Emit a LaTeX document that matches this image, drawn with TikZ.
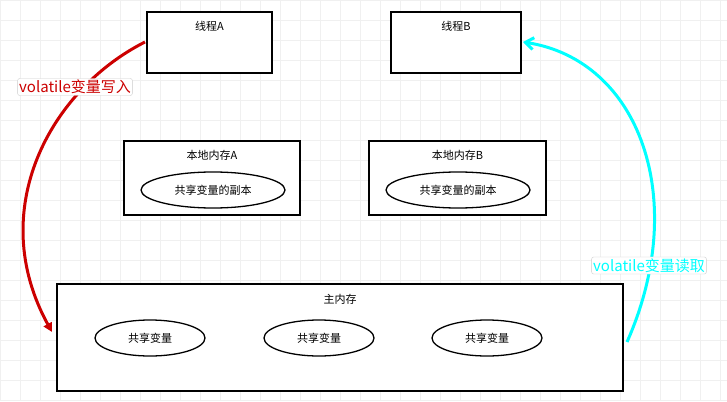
\documentclass[tikz,border=0pt]{standalone}
\usepackage{fontspec}
\setmainfont{Noto Sans CJK SC}
\usetikzlibrary{arrows.meta}
\definecolor{cy}{RGB}{0,255,255}
\begin{document}
\begin{tikzpicture}[x=1pt,y=-1pt,
  box/.style={draw=black,line width=2pt,fill=white,inner sep=0},
  ttl/.style={font=\fontsize{11}{12}\selectfont},
  lab/.style={draw=black!20,rounded corners=2pt,fill=white,inner sep=1.5pt,font=\fontsize{15}{16}\selectfont}]
\useasboundingbox (0,0) rectangle (727,401);
\fill[white] (0,0) rectangle (727,401);
\foreach \x in {0,20,...,720} \draw[black!6,line width=0.8pt] (\x,0) -- (\x,401);
\foreach \y in {0,20,...,400} \draw[black!6,line width=0.8pt] (0,\y) -- (727,\y);
\node[box,minimum width=125,minimum height=61] (ta) at (209.5,42.5) {};
\node[ttl] (tal) at (209.5,26) {线程A};
\node[box,minimum width=130,minimum height=61] (tb) at (456,42.5) {};
\node[ttl] (tbl) at (456,26) {线程B};
\node[box,minimum width=176,minimum height=74] (la) at (212,178) {};
\node[ttl] (lal) at (212,155) {本地内存A};
\draw[line width=1.3pt] (213,190) ellipse (72 and 18);
\node[ttl] (lae) at (213,190) {共享变量的副本};
\node[box,minimum width=177,minimum height=74] (lb) at (457.5,178) {};
\node[ttl] (lbl) at (457.5,155) {本地内存B};
\draw[line width=1.3pt] (458,190) ellipse (72 and 18);
\node[ttl] (lbe) at (458,190) {共享变量的副本};
\node[box,minimum width=566,minimum height=107] (mm) at (340,337.5) {};
\node[ttl] (mml) at (340,299) {主内存};
\foreach \x/\n in {150/a,319/b,487/c}{
  \draw[line width=1.3pt] (\x,338) ellipse (55 and 18);
  \node[ttl] (s\n) at (\x,338) {共享变量};
}
\coordinate (r1) at (145,42);
\coordinate (r2) at (52,332);
\draw[red!80!black,line width=3pt,-{Triangle[length=9pt,width=9pt]}] (r1) .. controls (50,90) and (-15,210) .. (r2);
\coordinate (c1) at (627,342);
\coordinate (c2) at (523,42);
\draw[cy,line width=3pt,-{Straight Barb[length=8pt,width=12pt]}] (c1) .. controls (690,200) and (640,60) .. (c2);
\node[lab,text=red!80!black] (rl) at (75,87) {volatile变量写入};
\node[lab,text=cy] (cl) at (649,265.5) {volatile变量读取};
\end{tikzpicture}
\end{document}
